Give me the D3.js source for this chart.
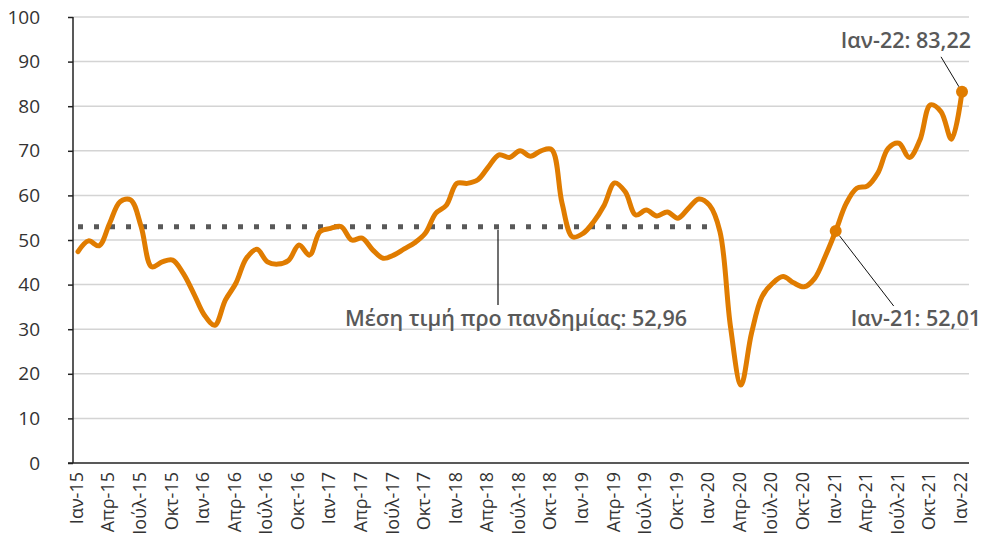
<!DOCTYPE html>
<html><head><meta charset="utf-8">
<script src="https://cdn.jsdelivr.net/npm/d3@7"></script>
<style>
body{margin:0;background:#fff;}
svg{font-family:"Open Sans",sans-serif;}
</style></head>
<body><svg id="c" width="982" height="538"></svg>
<script>
const monthNames = ["Ιαν","Φεβ","Μαρ","Απρ","Μάι","Ιούν","Ιούλ","Αύγ","Σεπ","Οκτ","Νοέ","Δεκ"];
const years = ["15","16","17","18","19","20","21","22"];
const categories = [];
years.forEach(y => monthNames.forEach(m => categories.push(m + "-" + y)));
categories.length = 85;
const values = [
 47.4,49.8,48.7,53.7,58.6,59.0,53.0,44.0,45.1,45.5,42.5,38.0,
 33.2,30.9,36.5,40.3,45.9,47.9,45.1,44.6,45.4,48.9,46.6,51.9,
 52.6,53.0,50.0,50.4,47.8,45.9,46.6,48.0,49.4,51.5,56.0,57.8,
 62.7,62.7,63.5,66.4,69.1,68.5,70.0,68.8,70.0,70.3,58.2,50.7,
 51.5,54.1,57.8,62.8,60.8,55.6,56.7,55.4,56.3,54.9,57.1,59.2,
 57.8,51.9,30.6,17.5,29.1,37.3,40.3,41.8,40.4,39.5,41.4,46.3,
 52.01,58.2,61.6,62.1,65.0,70.6,71.7,68.5,72.4,80.3,78.8,72.6,
 83.22
];
const tickLabels = ["Ιαν-15","Απρ-15","Ιούλ-15","Οκτ-15","Ιαν-16","Απρ-16","Ιούλ-16","Οκτ-16","Ιαν-17","Απρ-17","Ιούλ-17","Οκτ-17","Ιαν-18","Απρ-18","Ιούλ-18","Οκτ-18","Ιαν-19","Απρ-19","Ιούλ-19","Οκτ-19","Ιαν-20","Απρ-20","Ιούλ-20","Οκτ-20","Ιαν-21","Απρ-21","Ιούλ-21","Οκτ-21","Ιαν-22"];
const yTicks = [0,10,20,30,40,50,60,70,80,90,100];
const preMean = 52.96;
const meanStart = "Ιαν-15", meanEnd = "Φεβ-20";
const highlights = [{cat:"Ιαν-21", label:"Ιαν-21: 52,01"},{cat:"Ιαν-22", label:"Ιαν-22: 83,22"}];
const meanLabel = "Μέση τιμή προ πανδημίας: 52,96";

const svg = d3.select("#c");
const x = d3.scalePoint().domain(categories).range([78, 962]);
const y = d3.scaleLinear().domain([0,100]).range([463, 17]);
const left = 73, right = 969;

// grid
svg.append("g").selectAll("line").data(yTicks.filter(d=>d>0)).join("line")
  .attr("x1", left).attr("x2", right).attr("y1", d=>y(d)).attr("y2", d=>y(d))
  .attr("stroke","#d4d4d4").attr("stroke-width",1.5);

// y axis
const ya = svg.append("g").attr("transform",`translate(${left},0)`)
  .call(d3.axisLeft(y).tickValues(yTicks).tickSize(5).tickPadding(28).tickFormat(d3.format("d")));
ya.select(".domain").attr("stroke","#222").attr("stroke-width",1.5).attr("d",`M0,${y(100)}V${y(0)}`);
ya.selectAll(".tick line").attr("stroke","#222").attr("stroke-width",1.5);
ya.selectAll("text").attr("font-size",19).attr("fill","#333").attr("font-family","'Open Sans', sans-serif");

// x axis
const xa = svg.append("g").attr("transform",`translate(0,${y(0)})`)
  .call(d3.axisBottom(x).tickValues(tickLabels).tickSize(0));
xa.select(".domain").attr("stroke","#222").attr("stroke-width",1.5).attr("d",`M68,0H${right}`);
xa.selectAll("text").attr("font-size",18).attr("fill","#333").attr("font-family","'Open Sans', sans-serif")
  .attr("transform","rotate(-90)").attr("x",-9).attr("y",-2).attr("dy","0.35em").style("text-anchor","end");

// mean dotted line
svg.append("line").attr("x1", x(meanStart)).attr("x2", x(meanEnd))
  .attr("y1", y(preMean)).attr("y2", y(preMean))
  .attr("stroke","#595959").attr("stroke-width",5).attr("stroke-dasharray","5 11");

// mean annotation
const mx = 498;
svg.append("line").attr("x1",mx).attr("x2",mx).attr("y1",y(preMean)+3).attr("y2",305)
  .attr("stroke","#111").attr("stroke-width",1.2);
svg.append("text").attr("x",516).attr("y",326).attr("text-anchor","middle")
  .attr("font-size",21.5).attr("font-weight",600).attr("fill","#595959").text(meanLabel);

// line
const line = d3.line().x((d,i)=>x(categories[i])).y(d=>y(d)).curve(d3.curveCatmullRom.alpha(0.5));
svg.append("path").datum(values).attr("d",line).attr("fill","none")
  .attr("stroke","#E07C00").attr("stroke-width",5).attr("stroke-linejoin","round").attr("stroke-linecap","round");

// highlights
const h1 = highlights[0], h2 = highlights[1];
const p1 = [x(h1.cat), y(values[categories.indexOf(h1.cat)])];
const p2 = [x(h2.cat), y(values[categories.indexOf(h2.cat)])];
svg.append("line").attr("x1",p1[0]+4).attr("y1",p1[1]+5).attr("x2",p1[0]+58).attr("y2",p1[1]+75)
  .attr("stroke","#111").attr("stroke-width",1);
svg.append("line").attr("x1",p2[0]-3).attr("y1",p2[1]-5).attr("x2",p2[0]-21).attr("y2",p2[1]-35)
  .attr("stroke","#111").attr("stroke-width",1);
[p1,p2].forEach(p=>svg.append("circle").attr("cx",p[0]).attr("cy",p[1]).attr("r",6).attr("fill","#E07C00"));
svg.append("text").attr("x",981).attr("y",326).attr("text-anchor","end")
  .attr("font-size",21.5).attr("font-weight",600).attr("fill","#595959").text(h1.label);
svg.append("text").attr("x",971).attr("y",48).attr("text-anchor","end")
  .attr("font-size",21.5).attr("font-weight",600).attr("fill","#595959").text(h2.label);
</script></body></html>
